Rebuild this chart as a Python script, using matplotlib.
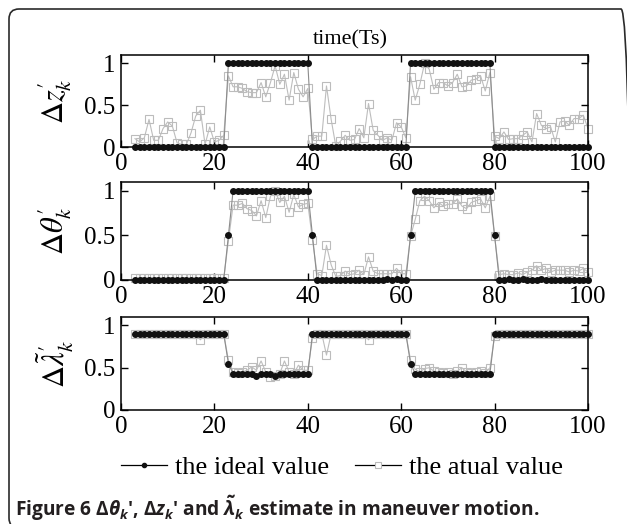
import numpy as np
import matplotlib
matplotlib.use("Agg")
import matplotlib.pyplot as plt
from matplotlib.lines import Line2D
from matplotlib.patches import FancyBboxPatch
from matplotlib.transforms import IdentityTransform

plt.rcParams["font.family"] = ["Liberation Serif", "DejaVu Serif"]
plt.rcParams["mathtext.fontset"] = "custom"
plt.rcParams["mathtext.rm"] = "Open Sans:bold"
plt.rcParams["mathtext.it"] = "Open Sans:italic:bold"
plt.rcParams["mathtext.bf"] = "Open Sans:bold"

# sample index (time steps 3..100)
t = np.arange(3, 101)

# delta z'
z_ideal = [0, 0, 0, 0, 0, 0, 0, 0, 0, 0, 0, 0, 0, 0, 0, 0, 0, 0, 0, 0,
           1, 1, 1, 1, 1, 1, 1, 1, 1, 1, 1, 1, 1, 1, 1, 1, 1, 1,
           0, 0, 0, 0, 0, 0, 0, 0, 0, 0, 0, 0, 0, 0, 0, 0, 0, 0, 0, 0, 0,
           1, 1, 1, 1, 1, 1, 1, 1, 1, 1, 1, 1, 1, 1, 1, 1, 1, 1,
           0, 0, 0, 0, 0, 0, 0, 0, 0, 0, 0, 0, 0, 0, 0, 0, 0, 0, 0, 0, 0]
z_actual = [0.10, 0.06, 0.11, 0.33, 0.08, 0.08, 0.22, 0.30, 0.25, 0.05,
            0.03, 0.03, 0.17, 0.37, 0.44, 0.03, 0.24, 0.06, 0.08, 0.14,
            0.85, 0.72, 0.72, 0.70, 0.66, 0.65, 0.65, 0.77, 0.60, 0.77,
            0.97, 0.75, 0.87, 0.56, 0.89, 0.69, 0.60, 0.70,
            0.09, 0.13, 0.13, 0.73, 0.33, 0.01, 0.07, 0.14, 0.08, 0.09,
            0.22, 0.11, 0.52, 0.20, 0.14, 0.08, 0.11, 0.08, 0.29, 0.24, 0.11,
            0.84, 0.56, 0.75, 1.00, 0.93, 0.69, 0.77, 0.77, 0.73, 0.77,
            0.87, 0.72, 0.73, 0.80, 0.81, 0.85, 0.67, 0.89,
            0.13, 0.10, 0.18, 0.09, 0.10, 0.10, 0.14, 0.18, 0.06, 0.40,
            0.26, 0.22, 0.24, 0.06, 0.30, 0.31, 0.26, 0.34, 0.34, 0.38, 0.22]

# delta theta'
theta_ideal = [0, 0, 0, 0, 0, 0, 0, 0, 0, 0, 0, 0, 0, 0, 0, 0, 0, 0, 0, 0,
               0.5, 1, 1, 1, 1, 1, 1, 1, 1, 1, 1, 1, 1, 1, 1, 1, 1, 1,
               0.5, 0, 0, 0, 0, 0, 0, 0, 0, 0, 0, 0, 0, 0, 0, 0, 0.01, 0, 0.01, 0, 0,
               0.5, 1, 1, 1, 1, 1, 1, 1, 1, 1, 1, 1, 1, 1, 1, 1, 1, 1,
               0.5, 0, 0, 0.01, 0, 0, 0.01, 0, 0, 0, 0.01, 0, 0, 0, 0, 0, 0, 0, 0, 0, 0]
theta_actual = [0.02, 0.02, 0.02, 0.02, 0.02, 0.02, 0.02, 0.02, 0.02, 0.02,
                0.02, 0.02, 0.02, 0.02, 0.02, 0.02, 0.02, 0.02, 0.02, 0.02,
                0.44, 0.84, 0.84, 0.86, 0.80, 0.78, 0.72, 0.89, 0.70, 0.94,
                1.00, 0.87, 0.94, 0.76, 0.96, 0.82, 0.85, 0.86,
                0.45, 0.07, 0.05, 0.39, 0.17, 0.04, 0.05, 0.10, 0.06, 0.07,
                0.11, 0.06, 0.26, 0.10, 0.07, 0.07, 0.07, 0.07, 0.13, 0.07, 0.07,
                0.49, 0.68, 0.89, 0.94, 0.89, 0.81, 0.87, 0.83, 0.85, 0.85,
                0.91, 0.83, 0.80, 0.87, 0.89, 0.91, 0.81, 0.94,
                0.49, 0.06, 0.07, 0.06, 0.06, 0.08, 0.06, 0.09, 0.11, 0.16,
                0.11, 0.13, 0.09, 0.11, 0.11, 0.11, 0.09, 0.11, 0.10, 0.13, 0.09]

# delta lambda~'
lam_ideal = [0.9, 0.9, 0.9, 0.9, 0.9, 0.9, 0.9, 0.9, 0.9, 0.9,
             0.9, 0.9, 0.9, 0.9, 0.9, 0.9, 0.9, 0.9, 0.9, 0.9,
             0.55, 0.43, 0.43, 0.43, 0.43, 0.43, 0.40, 0.43, 0.43, 0.43,
             0.40, 0.43, 0.43, 0.43, 0.43, 0.43, 0.43, 0.43,
             0.9, 0.9, 0.9, 0.9, 0.9, 0.9, 0.9, 0.9, 0.9, 0.9, 0.9,
             0.9, 0.9, 0.9, 0.9, 0.9, 0.9, 0.9, 0.9, 0.9, 0.9,
             0.55, 0.43, 0.43, 0.43, 0.43, 0.43, 0.43, 0.43, 0.43, 0.43,
             0.43, 0.43, 0.43, 0.43, 0.43, 0.43, 0.43, 0.43,
             0.9, 0.9, 0.9, 0.9, 0.9, 0.9, 0.9, 0.9, 0.9, 0.9, 0.9,
             0.9, 0.9, 0.9, 0.9, 0.9, 0.9, 0.9, 0.9, 0.9, 0.9]
lam_actual = [0.9, 0.9, 0.9, 0.9, 0.9, 0.9, 0.9, 0.9, 0.9, 0.9,
              0.9, 0.9, 0.9, 0.9, 0.83, 0.9, 0.9, 0.9, 0.9, 0.9,
              0.59, 0.45, 0.44, 0.45, 0.47, 0.51, 0.47, 0.58, 0.45, 0.39,
              0.40, 0.43, 0.58, 0.45, 0.43, 0.53, 0.47, 0.47,
              0.85, 0.9, 0.9, 0.65, 0.9, 0.9, 0.9, 0.9, 0.9, 0.9, 0.9,
              0.9, 0.83, 0.9, 0.9, 0.9, 0.9, 0.9, 0.9, 0.9, 0.9,
              0.59, 0.48, 0.45, 0.49, 0.50, 0.46, 0.45, 0.44, 0.45, 0.43,
              0.46, 0.50, 0.45, 0.44, 0.45, 0.46, 0.44, 0.50,
              0.87, 0.9, 0.9, 0.9, 0.9, 0.9, 0.9, 0.9, 0.9, 0.9, 0.9,
              0.9, 0.9, 0.9, 0.9, 0.9, 0.9, 0.9, 0.9, 0.9, 0.9]

ylabels = [r"$\Delta z^{\prime}_{k}$", r"$\Delta\theta^{\prime}_{k}$",
           r"$\Delta\tilde{\lambda}^{\prime}_{k}$"]
panels = [(z_ideal, z_actual), (theta_ideal, theta_actual), (lam_ideal, lam_actual)]

W, H = 627, 524
fig = plt.figure(figsize=(W / 100, H / 100), dpi=100)

# axes boxes in pixels: (top, bottom)
boxes = [(55, 147), (182, 280), (317, 410)]
left, right = 121, 588

for (top, bot), (ideal, actual), lab in zip(boxes, panels, ylabels):
    ax = fig.add_axes([left / W, 1 - bot / H, (right - left) / W, (bot - top) / H])
    ax.plot(t, actual, color="#bdbdbd", lw=0.8, marker="s", ms=5.5,
            mfc="none", mec="#bcbcbc", mew=0.8, zorder=2, clip_on=False)
    ax.plot(t, ideal, color="#8c8c8c", lw=0.8, marker="o", ms=4,
            mfc="#111111", mec="#111111", zorder=3, clip_on=False)
    ax.set_xlim(0, 100)
    ax.set_ylim(0, 1.1)
    ax.set_xticks([0, 20, 40, 60, 80, 100])
    ax.set_yticks([0, 0.5, 1])
    ax.set_yticklabels(["0", "0.5", "1"])
    ax.tick_params(direction="in", top=True, right=True, length=5, width=1,
                   labelsize=18, pad=4)
    for s in ax.spines.values():
        s.set_linewidth(1.1)
    fig.text(55 / W, 1 - (top + bot) / 2 / H, lab, rotation=90, ha="center",
             va="center", fontsize=22, math_fontfamily="stix")

fig.text(350 / W, 1 - 40 / H, "time(Ts)", ha="center", va="center", fontsize=16)

handles = [
    Line2D([], [], color="black", lw=0.9, marker="o", ms=3, mfc="#111111", mec="#111111"),
    Line2D([], [], color="black", lw=0.9, marker="s", ms=5, mfc="white", mec="#bbbbbb", mew=0.8),
]
fig.legend(handles, ["the ideal value", "the atual value"], loc="center",
           bbox_to_anchor=(342 / W, 1 - 467 / H), ncol=2, frameon=False,
           fontsize=19, handlelength=1.75, handletextpad=0.3, columnspacing=1.0)

caption = (r"Figure 6 $\Delta\theta_k$', $\Delta z_k$' and "
           r"$\tilde{\lambda}_k$ estimate in maneuver motion.")
fig.text(15 / W, 1 - 508 / H, caption, ha="left", va="center", fontsize=13.8,
         family="Open Sans", weight="bold", color="#231f20",
         math_fontfamily="custom")

frame = FancyBboxPatch((9, -4), 622, 519, boxstyle="round,pad=0,rounding_size=10",
                       transform=IdentityTransform(), fill=False,
                       edgecolor="#2a2a2a", lw=1.2, clip_on=False)
fig.patches.append(frame)

fig.savefig("out.png", dpi=100)
